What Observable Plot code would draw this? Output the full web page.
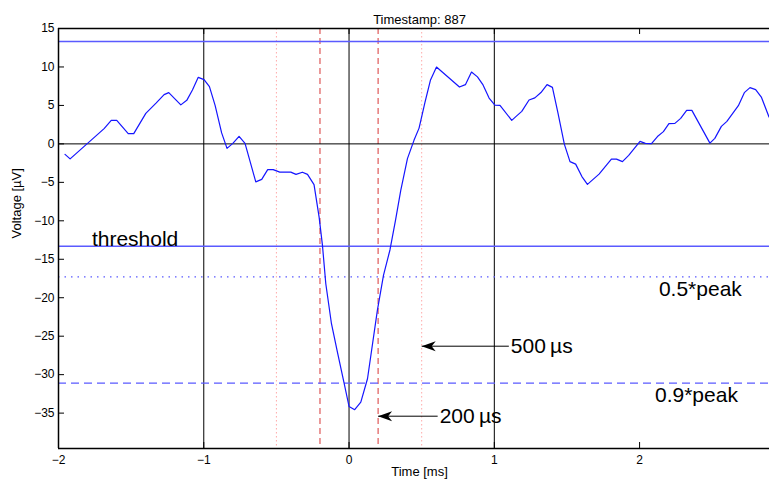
<!DOCTYPE html>
<html>
<head>
<meta charset="utf-8">
<script src="https://cdn.jsdelivr.net/npm/d3@7"></script>
<script src="https://cdn.jsdelivr.net/npm/@observablehq/plot@0.6"></script>
<style>
  html, body { margin: 0; padding: 0; background: #fff; overflow: hidden; }
</style>
</head>
<body>
<div id="chart"></div>
<script>
// Spike waveform around the detection time (ms) and its voltage (µV)
const timeMs = [
  -1.955, -1.920, -1.686, -1.637, -1.599, -1.520, -1.482, -1.399, -1.327, -1.273,
  -1.241, -1.158, -1.117, -1.078, -1.038, -0.998, -0.961, -0.922, -0.877, -0.840,
  -0.800, -0.757, -0.716, -0.642, -0.601, -0.560, -0.522, -0.477, -0.401, -0.365,
  -0.321, -0.286, -0.241, -0.206, -0.183, -0.160, -0.121, -0.080, -0.034, 0.000,
  0.039, 0.081, 0.127, 0.195, 0.237, 0.282, 0.321, 0.356, 0.402, 0.447,
  0.482, 0.523, 0.560, 0.602, 0.760, 0.801, 0.843, 0.884, 0.920, 0.964,
  1.004, 1.039, 1.120, 1.154, 1.189, 1.239, 1.279, 1.321, 1.363, 1.400,
  1.438, 1.482, 1.521, 1.560, 1.603, 1.641, 1.721, 1.806, 1.841, 1.882,
  1.925, 2.003, 2.040, 2.082, 2.123, 2.164, 2.202, 2.243, 2.283, 2.324,
  2.360, 2.484, 2.518, 2.563, 2.601, 2.680, 2.721, 2.760, 2.799, 2.838,
  2.891
];
const voltage = [
  -1.37, -1.95, 1.98, 3.06, 3.06, 1.33, 1.33, 3.97, 5.33, 6.40,
  6.66, 5.07, 5.66, 7.00, 8.65, 8.36, 7.44, 5.01, 1.43, -0.59,
  0.07, 0.98, 0.07, -4.94, -4.62, -3.34, -3.34, -3.67, -3.67, -3.97,
  -3.68, -3.97, -5.29, -9.52, -13.20, -18.18, -23.38, -27.07, -31.11, -34.14,
  -34.56, -33.58, -30.53, -21.65, -17.10, -13.76, -9.82, -6.05, -1.92, 0.46,
  2.05, 5.44, 8.26, 9.99, 7.39, 7.70, 9.34, 8.71, 7.74, 5.96,
  5.05, 5.01, 3.06, 3.64, 4.23, 5.70, 5.98, 6.67, 7.70, 7.35,
  4.03, -0.03, -2.31, -2.63, -4.25, -5.27, -3.93, -1.98, -1.98, -2.31,
  -1.50, 0.33, 0.07, 0.03, 0.95, 1.59, 2.63, 2.67, 3.32, 4.36,
  4.36, 0.10, 0.72, 2.28, 2.93, 4.97, 6.66, 7.31, 7.06, 6.09,
  3.49
];

const xTicks = [-2, -1, 0, 1, 2];
const yTicks = [-35, -30, -25, -20, -15, -10, -5, 0, 5, 10, 15];
const xDomain = [-2, 2.97];
const yDomain = [-39.6, 15];

const threshold = 13.3;            // detection threshold (µV), drawn at ±
const gridTimes = [-1, 0, 1];       // solid reference lines (ms)
const narrowWindow = [-0.2, 0.2];   // ±200 µs
const wideWindow = [-0.5, 0.5];     // ±500 µs

// Annotation arrows: label, tip time (ms), label start time (ms), level (µV)
const arrowLabels = ["500\u2009µs", "200\u2009µs"];
const arrowTips = [0.5, 0.2];
const arrowLabelX = [1.1, 0.61];
const arrowLevels = [-26.3, -35.4];

// Text labels for the reference levels
const levelLabels = ["0.5*peak", "0.9*peak"];
const levelLabelX = [2.133, 2.106];
const levelLabelY = [-18.9, -32.7];
const thresholdLabelX = -1.77;

const title = "Timestamp: 887";

const peak = d3.min(voltage);
const peakLevels = [0.5 * peak, 0.9 * peak];

const wave = timeMs.map((t, i) => ({t, v: voltage[i]}));
const arrows = arrowLabels.map((label, i) => ({
  label, tip: arrowTips[i], start: arrowLabelX[i], level: arrowLevels[i]
}));
const levelText = levelLabels.map((label, i) => ({label, t: levelLabelX[i], v: levelLabelY[i]}));

// Layout
const W = 769, H = 484;
const marginLeft = 58, marginRight = -11, marginTop = 28, marginBottom = 36;
const innerW = W - marginLeft - marginRight;
const innerH = H - marginTop - marginBottom;
const tickLen = 6;

// Notched arrowhead pointing left, tip at the origin
const arrowHead = {
  draw(context) {
    context.moveTo(0, 0);
    context.lineTo(14, -5);
    context.lineTo(10, 0);
    context.lineTo(14, 5);
    context.closePath();
  }
};

const waveColor = "#1515ff";
const levelColor = "#5a5aff";
const font = "'Liberation Sans', Arial, Helvetica, sans-serif";
const minus = d => d3.format("")(d).replace("-", "\u2212");

const chart = Plot.plot({
  width: W,
  height: H,
  marginLeft, marginRight, marginTop, marginBottom,
  style: {fontFamily: font, fontSize: "12px", color: "#000", background: "#fff"},
  x: {domain: xDomain, ticks: xTicks, tickSize: 0, tickPadding: 7, label: null, tickFormat: minus},
  y: {domain: yDomain, ticks: yTicks, tickSize: 0, tickPadding: 4, label: null, tickFormat: minus},
  marks: [
    // wide window (dotted pink) and narrow window (dashed red)
    Plot.ruleX(wideWindow, {stroke: "#ffaaaa", strokeWidth: 1, strokeDasharray: "1.5,2.5"}),
    Plot.ruleX(narrowWindow, {stroke: "#d42020", strokeWidth: 0.9, strokeDasharray: "6,4"}),
    // solid reference lines
    Plot.ruleX(gridTimes, {stroke: "#000", strokeWidth: 1}),
    Plot.ruleY([0], {stroke: "#000", strokeWidth: 1}),
    // threshold and peak-fraction levels
    Plot.ruleY([threshold, -threshold], {stroke: levelColor, strokeWidth: 1.5}),
    Plot.ruleY([peakLevels[0]], {stroke: levelColor, strokeWidth: 1.3, strokeDasharray: "1.5,5"}),
    Plot.ruleY([peakLevels[1]], {stroke: levelColor, strokeWidth: 1.3, strokeDasharray: "8,5"}),
    // waveform
    Plot.line(wave, {x: "t", y: "v", stroke: waveColor, strokeWidth: 1.2}),
    // axes box and inward ticks
    Plot.ruleX([xDomain[0]], {stroke: "#000", strokeWidth: 1.5}),
    Plot.ruleY(yDomain, {stroke: "#000", strokeWidth: 1.5}),
    Plot.tickY(yTicks, {y: d => d, insetRight: innerW - tickLen, stroke: "#000"}),
    Plot.tickX(xTicks, {x: d => d, insetBottom: innerH - tickLen, stroke: "#000"}),
    Plot.tickX(xTicks, {x: d => d, insetTop: innerH - tickLen, stroke: "#000"}),
    // annotation arrows
    Plot.link(arrows, {x1: "tip", x2: "start", y1: "level", y2: "level", stroke: "#000", strokeWidth: 1}),
    Plot.dot(arrows, {x: "tip", y: "level", symbol: arrowHead, fill: "#000", stroke: "none"}),
    Plot.text(arrows, {x: "start", y: "level", text: "label", textAnchor: "start", dx: 2, fontSize: 21, fill: "#000"}),
    // level labels
    Plot.text(levelText, {x: "t", y: "v", text: "label", textAnchor: "start", fontSize: 21, fill: "#000"}),
    Plot.text(["threshold"], {x: () => thresholdLabelX, y: () => -threshold, text: d => d, textAnchor: "start", lineAnchor: "bottom", fontSize: 21, fill: "#000"}),
    // title and axis labels
    Plot.text([title], {text: d => d, frameAnchor: "top", dy: -14, fontSize: 13, fill: "#000"}),
    Plot.text(["Time [ms]"], {text: d => d, frameAnchor: "bottom", dy: 27.5, fontSize: 13, fill: "#000"}),
    Plot.text(["Voltage [µV]"], {text: d => d, frameAnchor: "left", rotate: -90, dx: -42, fontSize: 13, fill: "#000"})
  ]
});

document.getElementById("chart").appendChild(chart);
</script>
</body>
</html>
